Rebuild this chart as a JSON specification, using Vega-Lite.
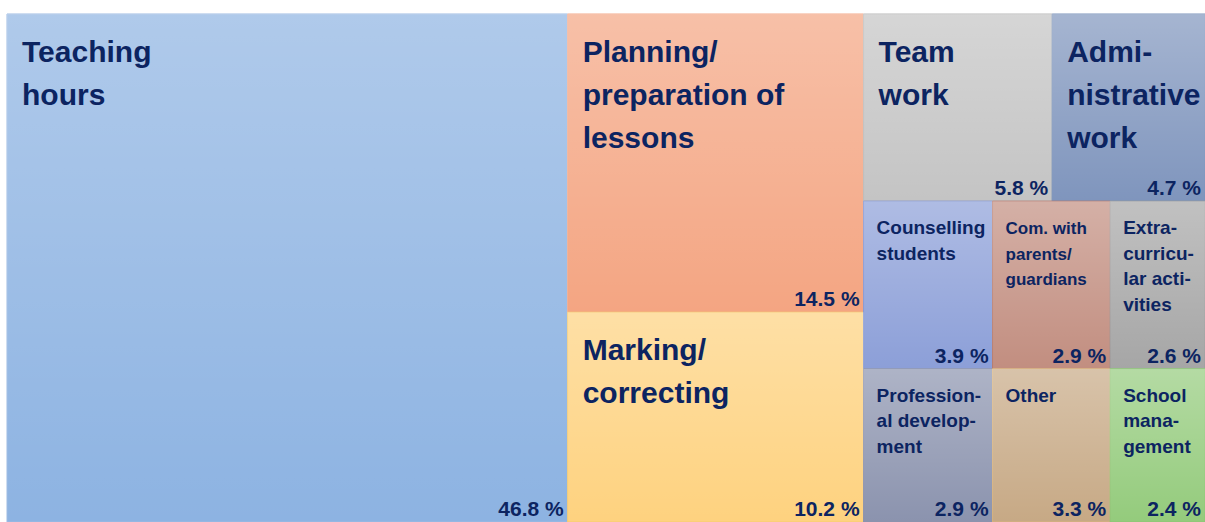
{
  "$schema": "https://vega.github.io/schema/vega-lite/v6.json",
  "width": 1198,
  "height": 508,
  "autosize": "none",
  "padding": {"left": 7, "top": 14, "right": 0, "bottom": 0},
  "background": "white",
  "config": {"view": {"stroke": null}},
  "data": {
    "values": [
      {"key": "teach", "name": "Teaching\nhours", "value": 46.8, "g1": 1, "g2": 1, "g3": 1, "g4": 1},
      {"key": "plan", "name": "Planning/\npreparation of\nlessons", "value": 14.5, "g1": 2, "g2": 1, "g3": 1, "g4": 1},
      {"key": "mark", "name": "Marking/\ncorrecting", "value": 10.2, "g1": 2, "g2": 2, "g3": 1, "g4": 1},
      {"key": "team", "name": "Team\nwork", "value": 5.8, "g1": 3, "g2": 1, "g3": 1, "g4": 1},
      {"key": "admin", "name": "Admi-\nnistrative\nwork", "value": 4.7, "g1": 3, "g2": 1, "g3": 2, "g4": 1},
      {"key": "couns", "name": "Counselling\nstudents", "value": 3.9, "g1": 3, "g2": 2, "g3": 1, "g4": 1},
      {"key": "prof", "name": "Profession-\nal develop-\nment", "value": 2.9, "g1": 3, "g2": 2, "g3": 1, "g4": 2},
      {"key": "com", "name": "Com. with\nparents/\nguardians", "value": 2.9, "g1": 3, "g2": 2, "g3": 2, "g4": 1},
      {"key": "other", "name": "Other", "value": 3.3, "g1": 3, "g2": 2, "g3": 2, "g4": 2},
      {"key": "extra", "name": "Extra-\ncurricu-\nlar acti-\nvities", "value": 2.6, "g1": 3, "g2": 2, "g3": 3, "g4": 1},
      {"key": "school", "name": "School\nmana-\ngement", "value": 2.4, "g1": 3, "g2": 2, "g3": 3, "g4": 2}
    ]
  },
  "transform": [
    {"window": [{"op": "sum", "field": "value", "as": "c1"}], "sort": [{"field": "g1"}, {"field": "g2"}, {"field": "g3"}, {"field": "g4"}]},
    {"joinaggregate": [{"op": "sum", "field": "value", "as": "t1"}, {"op": "max", "field": "c1", "as": "e1"}], "groupby": ["g1"]},
    {"window": [{"op": "sum", "field": "value", "as": "c2"}], "groupby": ["g1"], "sort": [{"field": "g2"}, {"field": "g3"}, {"field": "g4"}]},
    {"joinaggregate": [{"op": "sum", "field": "value", "as": "t2"}, {"op": "max", "field": "c2", "as": "e2"}], "groupby": ["g1", "g2"]},
    {"window": [{"op": "sum", "field": "value", "as": "c3"}], "groupby": ["g1", "g2"], "sort": [{"field": "g3"}, {"field": "g4"}]},
    {"joinaggregate": [{"op": "sum", "field": "value", "as": "t3"}, {"op": "max", "field": "c3", "as": "e3"}], "groupby": ["g1", "g2", "g3"]},
    {"window": [{"op": "sum", "field": "value", "as": "c4"}], "groupby": ["g1", "g2"], "sort": [{"field": "g4"}, {"field": "g3"}]},
    {"joinaggregate": [{"op": "sum", "field": "value", "as": "t4"}, {"op": "max", "field": "c4", "as": "e4"}], "groupby": ["g1", "g2", "g4"]},
    {"calculate": "(datum.e1 - datum.t1) + datum.t1 * (datum.e3 - datum.t3) / datum.t2", "as": "x0"},
    {"calculate": "(datum.e1 - datum.t1) + datum.t1 * datum.e3 / datum.t2", "as": "x1"},
    {"calculate": "(datum.e2 - datum.t2) / datum.t1 + (datum.t2 / datum.t1) * (datum.e4 - datum.t4) / datum.t2", "as": "y0"},
    {"calculate": "(datum.e2 - datum.t2) / datum.t1 + (datum.t2 / datum.t1) * datum.e4 / datum.t2", "as": "y1"},
    {"calculate": "format(datum.value, '.1f') + ' %'", "as": "pct"},
    {"calculate": "datum.g1 < 3 || datum.g2 == 1 ? 'big' : 'small'", "as": "tier"}
  ],
  "encoding": {
    "x": {"field": "x0", "type": "quantitative", "scale": {"domain": [0, 100], "nice": false, "zero": true}, "axis": null},
    "y": {"field": "y0", "type": "quantitative", "scale": {"domain": [0, 1], "nice": false, "reverse": true}, "axis": null}
  },
  "layer": [
    {
      "mark": {"type": "rect", "strokeWidth": 1},
      "encoding": {
        "x2": {"field": "x1"},
        "y2": {"field": "y1"},
        "fill": {
          "field": "key", "type": "nominal", "legend": null,
          "scale": {
            "domain": ["teach", "plan", "mark", "team", "admin", "couns", "prof", "com", "other", "extra", "school"],
            "range": ["#8DB3E2", "#F4A582", "#FED27F", "#C4C4C4", "#7F95BD", "#8C9FD8", "#8B93AE", "#C28E80", "#C7A985", "#A6A6A6", "#94CB7C"]
          }
        },
        "stroke": {
          "field": "key", "type": "nominal", "legend": null,
          "scale": {
            "domain": ["teach", "plan", "mark", "team", "admin", "couns", "prof", "com", "other", "extra", "school"],
            "range": ["#9DBBE2", "#F2A888", "#F8CC70", "#B8B8B8", "#7A92BA", "#8396D2", "#8A92AC", "#B87C6E", "#D8B27C", "#9C9C9C", "#8CC474"]
          }
        }
      }
    },
    {
      "mark": {
        "type": "rect",
        "fill": {
          "gradient": "linear", "x1": 0, "y1": 0, "x2": 0, "y2": 1,
          "stops": [
            {"offset": 0, "color": "rgba(255,255,255,0.3)"},
            {"offset": 1, "color": "rgba(255,255,255,0)"}
          ]
        }
      },
      "encoding": {"x2": {"field": "x1"}, "y2": {"field": "y1"}}
    },
    {
      "transform": [{"filter": "datum.tier == 'big'"}],
      "mark": {"type": "text", "align": "left", "baseline": "alphabetic", "dx": 15, "dy": 48, "font": "Liberation Sans, Arial, sans-serif", "fontWeight": "bold", "fontSize": 30, "lineHeight": 43, "lineBreak": "\n", "color": "#0C2461"},
      "encoding": {"text": {"field": "name", "type": "nominal"}}
    },
    {
      "transform": [{"filter": "datum.tier == 'small'"}],
      "mark": {"type": "text", "align": "left", "baseline": "alphabetic", "dx": 13, "dy": 33, "font": "Liberation Sans, Arial, sans-serif", "fontWeight": "bold", "lineHeight": 25.5, "lineBreak": "\n", "color": "#0C2461"},
      "encoding": {
        "text": {"field": "name", "type": "nominal"},
        "size": {"condition": {"test": "datum.key == 'com'", "value": 17}, "value": 19}
      }
    },
    {
      "mark": {"type": "text", "align": "right", "baseline": "alphabetic", "dx": -4, "dy": -6, "font": "Liberation Sans, Arial, sans-serif", "fontWeight": "bold", "fontSize": 21, "color": "#0C2461"},
      "encoding": {
        "x": {"field": "x1", "type": "quantitative"},
        "y": {"field": "y1", "type": "quantitative"},
        "text": {"field": "pct", "type": "nominal"}
      }
    }
  ]
}
